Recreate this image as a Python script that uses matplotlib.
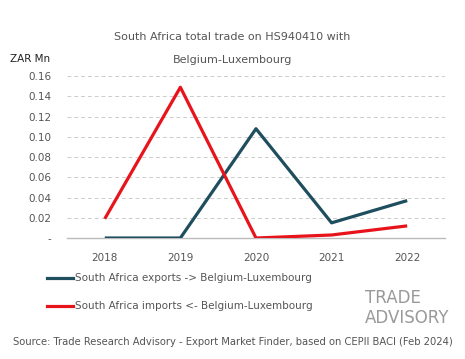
import numpy as np
import matplotlib.pyplot as plt
from matplotlib.lines import Line2D

years = [2018, 2019, 2020, 2021, 2022]
exports = [0.0, 0.0, 0.108, 0.015, 0.037]
imports = [0.019, 0.149, 0.0, 0.003, 0.012]
yticks = [0, 0.02, 0.04, 0.06, 0.08, 0.10, 0.12, 0.14, 0.16]
ylabels = ['-'] + ['%.2f' % v for v in yticks[1:]]

plt.rcParams['font.family'] = ['DejaVu Sans']
txt = '#555555'

fig = plt.figure(figsize=(4.65, 3.59), dpi=100)
ax = fig.add_axes([0.144, 0.337, 0.813, 0.451])

x = np.arange(len(years))
ax.plot(x, exports, color='#1f4e5f', lw=2.3, solid_capstyle='butt')
ax.plot(x, imports, color='#e8141c', lw=2.3, solid_capstyle='butt')

ax.set_xlim(-0.5, len(years) - 0.5)
ax.set_ylim(0, 0.16)
ax.set_yticks(yticks)
ax.set_yticklabels(ylabels)
ax.set_xticks(x)
ax.set_xticklabels([str(y) for y in years])
ax.tick_params(length=0, labelsize=7.5, colors=txt)
ax.tick_params(axis='x', pad=11)
ax.tick_params(axis='y', pad=11)
for v in yticks[1:]:
    ax.axhline(v, color='#cccccc', lw=0.7, ls=(0, (4, 3)), zorder=0)
ax.axhline(0, color='#bbbbbb', lw=1.0, zorder=0, clip_on=False)
for s in ax.spines.values():
    s.set_visible(False)

fig.text(0.5, 0.897, 'South Africa total trade on HS940410 with', ha='center', va='center',
         fontsize=8, color=txt)
fig.text(0.5, 0.832, 'Belgium-Luxembourg', ha='center', va='center', fontsize=8, color=txt)
fig.text(0.022, 0.836, 'ZAR Mn', ha='left', va='center', fontsize=7.5, color='#222222')

# legend
fig.add_artist(Line2D([0.101, 0.157], [0.226, 0.226], color='#1f4e5f', lw=2.3))
fig.text(0.162, 0.226, 'South Africa exports -> Belgium-Luxembourg', ha='left', va='center',
         fontsize=7.5, color=txt)
fig.add_artist(Line2D([0.101, 0.157], [0.148, 0.148], color='#e8141c', lw=2.3))
fig.text(0.162, 0.148, 'South Africa imports <- Belgium-Luxembourg', ha='left', va='center',
         fontsize=7.5, color=txt)

# logo
logo_font = ['Liberation Sans Narrow', 'DejaVu Sans']
fig.text(0.785, 0.170, 'TRADE', ha='left', va='center', fontsize=12, color='#999999',
         family=logo_font)
fig.text(0.785, 0.114, 'ADVISORY', ha='left', va='center', fontsize=12, color='#999999',
         family=logo_font)

fig.text(0.5, 0.047, 'Source: Trade Research Advisory - Export Market Finder, based on CEPII BACI (Feb 2024)',
         ha='center', va='center', fontsize=7.2, color=txt)

fig.savefig('out.png', dpi=100, facecolor='white')
